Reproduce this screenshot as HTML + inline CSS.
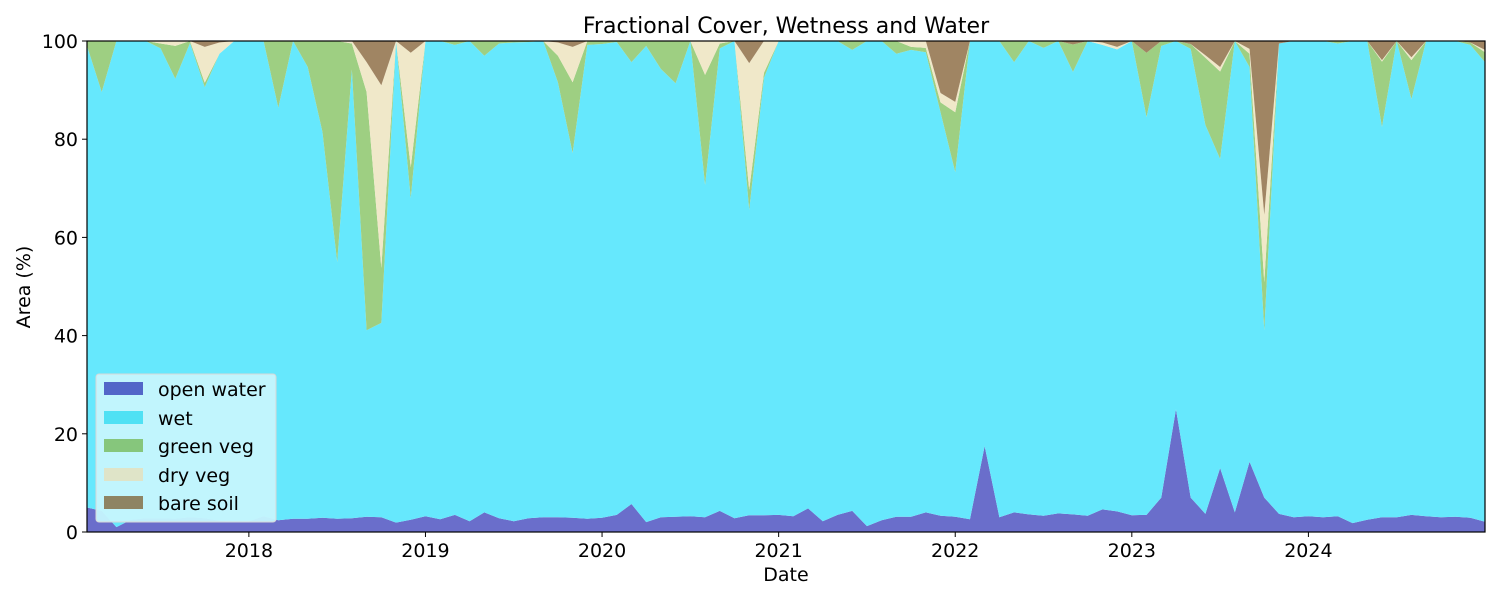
<!DOCTYPE html>
<html><head><meta charset="utf-8"><style>
body{margin:0;background:#fff;width:1500px;height:600px;overflow:hidden}
svg{font-family:"DejaVu Sans","Liberation Sans",sans-serif}
</style></head><body>
<svg id="chart" width="1500" height="600" xmlns="http://www.w3.org/2000/svg">
<text x="786" y="33" font-size="22" text-anchor="middle">Fractional Cover, Wetness and Water</text>
<g id="areas"></g>
<g id="axes"></g>
<text x="786" y="581" font-size="19" text-anchor="middle">Date</text>
<text transform="translate(30,287) rotate(-90)" font-size="19" text-anchor="middle">Area (%)</text>
<g>
<rect x="96" y="374" width="180" height="148" rx="3" fill="#c6f5fd" stroke="#d8d8d8" fill-opacity="0.95"/>
<rect x="104" y="382" width="39" height="13" fill="#5266c8"/>
<text x="158" y="396" font-size="19">open water</text>
<rect x="104" y="411" width="39" height="13" fill="#4fe1f4"/>
<text x="158" y="425" font-size="19">wet</text>
<rect x="104" y="439" width="39" height="13" fill="#86c67c"/>
<text x="158" y="453" font-size="19">green veg</text>
<rect x="104" y="468" width="39" height="13" fill="#dfe4c8"/>
<text x="158" y="482" font-size="19">dry veg</text>
<rect x="104" y="496" width="39" height="13" fill="#8e8463"/>
<text x="158" y="510" font-size="19">bare soil</text>
</g>
</svg>
<script>
// month index 0 = Feb 2017, monthly to Jan 2025
const water=[5,4.3,1,2.5,2.8,2.8,2.7,3,2.8,2.3,2.1,2.2,3.2,2.4,2.7,2.7,2.9,2.7,2.8,3.1,3,1.9,2.5,3.2,2.6,3.5,2.2,4,2.8,2.2,2.8,3,3,2.9,2.7,2.9,3.5,5.7,2,3,3.1,3.2,3,4.3,2.8,3.4,3.4,3.5,3.2,4.8,2.2,3.5,4.3,1.2,2.4,3.1,3.1,4,3.3,3.1,2.6,17.5,3,4,3.6,3.3,3.8,3.6,3.3,4.6,4.2,3.4,3.5,7,25,7,3.7,13,4,14.3,7,3.7,3,3.2,3,3.2,1.8,2.5,3,3,3.5,3.2,3,3.1,2.9,2.1];
const green=[1,10.4,0,0,0,1,6.7,0.4,0.9,0,0,0,0,13.6,0,5.3,18.5,45,5.3,48.5,11.2,0,6.3,0,0,0.8,0,3,0.5,0.3,0.2,0,5.4,14.4,0.8,0.6,0.2,4.3,1,5.7,8.6,0,22.4,1,0,4.1,1,0,0,0,0,0,1.8,0,0,2.6,0.6,0.9,2,12.2,0,0,0,4.3,0,1.4,0,5.6,0,0,0,0,13.1,1,0,1,13.7,17.8,0,2.7,9.8,0,0,0,0,0.5,0,0,13.3,0,7.9,0,0,0,0.5,2];
const dry=[0,0,0,0,0,0.5,1,0,7.3,2.3,0,0,0,0,0,0,0,0,0.5,6.1,37.2,0,23.3,0,0,0,0,0,0,0,0,0,2.7,7.2,0,0,0,0,0,0,0,0,6.9,0.5,0,25.8,6.5,0,0,0,0,0,0,0,0,0,1.2,1.4,1.9,2.1,0,0,0,0,0,0,0,0,0,0.5,0.5,0,0,0,0,0,0.5,0.9,0,1,13.7,0,0,0,0,0,0,0,0.3,0,0.6,0,0,0,0,0.5];
const bare=[0,0,0,0,0,0,0,0,1.2,0.3,0,0,0,0,0,0,0,0,0,4.3,9,0,2.4,0,0,0,0,0,0,0,0,0,0.3,1.2,0,0,0,0,0,0,0,0,0,0,0,4.5,0,0,0,0,0,0,0,0,0,0,0,0,10.6,12.4,0,0,0,0,0,0,0,0.7,0,0.3,1.2,0,2.4,0,0,0.6,2.9,5.3,0,1.6,35.4,0.5,0,0,0,0,0,0,3.9,0,3.3,0,0,0,0.3,1.8];
const yearTicks=[2018,2019,2020,2021,2022,2023,2024];
const yTicks=[0,20,40,60,80,100];
const X0=87,X1=1485,Y0=532,Y1=41;
const n=water.length;
const startYear=2017+1/12; // Feb 2017
function dateOf(i){return startYear+i/12;}
const dEnd=dateOf(n-1);
function xs(d){return X0+(d-startYear)/(dEnd-startYear)*(X1-X0);}
function ys(v){return Y0-(v/100)*(Y0-Y1);}
const NS='http://www.w3.org/2000/svg';
const wet=water.map((w,i)=>100-w-green[i]-dry[i]-bare[i]);
const layers=[[water,'#6a6ecb','area-open-water'],[wet,'#66e8fd','area-wet'],[green,'#9ecf82','area-green-veg'],[dry,'#f0e8c9','area-dry-veg'],[bare,'#a08563','area-bare-soil']];
const cum=new Array(n).fill(0);
const g=document.getElementById('areas');
layers.forEach(([arr,col,name])=>{
  const lower=cum.slice();
  for(let i=0;i<n;i++)cum[i]+=arr[i];
  let d='M';
  for(let i=0;i<n;i++)d+=xs(dateOf(i)).toFixed(2)+','+ys(cum[i]).toFixed(2)+' L';
  for(let i=n-1;i>=0;i--)d+=xs(dateOf(i)).toFixed(2)+','+ys(lower[i]).toFixed(2)+(i?' L':' Z');
  const p=document.createElementNS(NS,'path');
  p.setAttribute('d',d);p.setAttribute('fill',col);
  
  
  g.appendChild(p);
});
const ax=document.getElementById('axes');
const fr=document.createElementNS(NS,'rect');
fr.setAttribute('x',X0);fr.setAttribute('y',Y1);fr.setAttribute('width',X1-X0);fr.setAttribute('height',Y0-Y1);
fr.setAttribute('fill','none');fr.setAttribute('stroke','#000');fr.setAttribute('stroke-width','1.2');


ax.appendChild(fr);
yearTicks.forEach(yr=>{
  const x=xs(yr);
  const l=document.createElementNS(NS,'line');
  l.setAttribute('x1',x);l.setAttribute('x2',x);l.setAttribute('y1',Y0);l.setAttribute('y2',Y0+5);l.setAttribute('stroke','#000');
  
  
  ax.appendChild(l);
  const t=document.createElementNS(NS,'text');
  t.setAttribute('x',x);t.setAttribute('y',Y0+25);t.setAttribute('font-size','19');t.setAttribute('text-anchor','middle');
  t.textContent=yr;
  
  
  ax.appendChild(t);
});
yTicks.forEach(v=>{
  const y=ys(v);
  const l=document.createElementNS(NS,'line');
  l.setAttribute('x1',X0-5);l.setAttribute('x2',X0);l.setAttribute('y1',y);l.setAttribute('y2',y);l.setAttribute('stroke','#000');
  
  
  ax.appendChild(l);
  const t=document.createElementNS(NS,'text');
  t.setAttribute('x',X0-9);t.setAttribute('y',y+7);t.setAttribute('font-size','19');t.setAttribute('text-anchor','end');
  t.textContent=v;
  
  
  ax.appendChild(t);
});
</script>
</body></html>
